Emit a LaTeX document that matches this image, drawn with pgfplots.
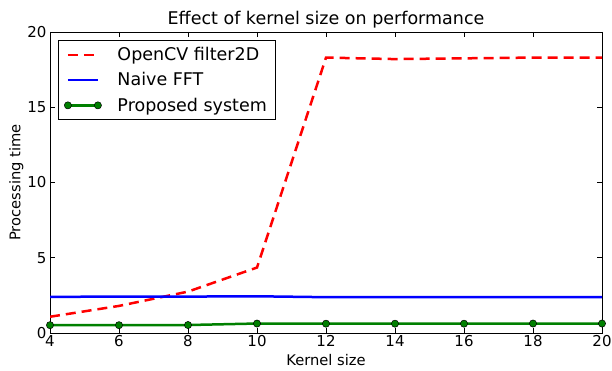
\documentclass[border=0pt]{standalone}
\usepackage{fontspec}
\setmainfont{DejaVu Sans}
\usepackage{pgfplots}
\pgfplotsset{compat=1.18}
\definecolor{mplgreen}{rgb}{0,0.5,0}
\begin{document}
\begin{tikzpicture}[x=1bp,y=1bp]
\path[use as bounding box] (0,0) rectangle (612,370);
\begin{axis}[
  at={(50bp,37bp)}, anchor=south west,
  scale only axis, width=552bp, height=301bp,
  xmin=4, xmax=20, ymin=0, ymax=20,
  xtick={4,6,...,20}, ytick={0,5,10,15,20},
  tick align=inside, major tick length=5bp,
  tick style={black, line width=0.6pt},
  axis line style={line width=0.8pt},
  /pgf/number format/assume math mode=true,
  tick label style={font=\fontsize{15bp}{17bp}\selectfont},
  xticklabel style={yshift=1bp},
  xlabel={Kernel size}, ylabel={Processing time},
  label style={font=\fontsize{14.7bp}{17bp}\selectfont},
  xlabel style={yshift=-1bp},
  ylabel style={yshift=-3bp},
  title={Effect of kernel size on performance},
  title style={font=\fontsize{17.5bp}{20bp}\selectfont, yshift=-6bp},
  legend style={at={(0.0145,0.973)}, anchor=north west, font=\fontsize{17.5bp}{21bp}\selectfont,
    draw=black, line width=0.6pt, row sep=6.5bp, inner xsep=6bp, inner ysep=5bp,
    /tikz/every odd column/.append style={column sep=14bp}},
  legend cell align=left,
  legend image code/.code={\draw[#1] (0bp,0bp) -- (30bp,0bp) plot coordinates {(0bp,0bp) (30bp,0bp)};},
]
\addplot[red, line width=2.5bp, dash pattern=on 10bp off 6bp, mark=none] coordinates {
(4,1.08) (6,1.8) (8,2.75) (10,4.35) (12,18.3) (14,18.2) (16,18.25) (18,18.3) (20,18.3)};
\addlegendentry{OpenCV filter2D}
\addplot[blue, line width=2.5bp, mark=none] coordinates {
(4,2.4) (6,2.42) (8,2.42) (10,2.44) (12,2.38) (14,2.38) (16,2.38) (18,2.38) (20,2.38)};
\addlegendentry{Naive FFT}
\addplot[color=mplgreen, line width=2.5bp, mark=*,
  mark size=3.6bp, mark options={fill=mplgreen, draw=black, line width=0.5pt, solid}] coordinates {
(4,0.52) (6,0.52) (8,0.53) (10,0.63) (12,0.62) (14,0.62) (16,0.62) (18,0.63) (20,0.63)};
\addlegendentry{Proposed system}
\end{axis}
\end{tikzpicture}
\end{document}
